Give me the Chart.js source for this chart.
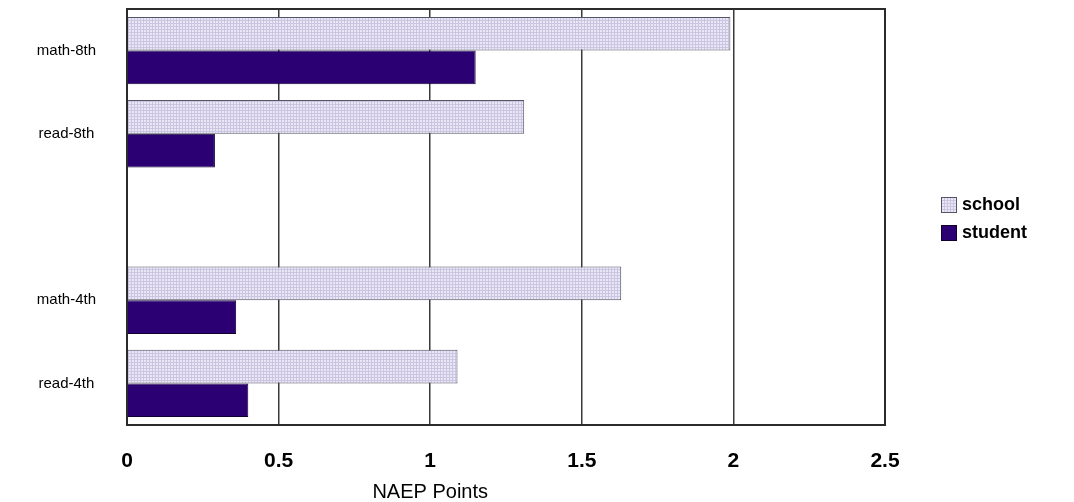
<!DOCTYPE html>
<html>
<head>
<meta charset="utf-8">
<script src="https://cdn.jsdelivr.net/npm/chart.js@4"></script>
<style>
  html, body { margin: 0; padding: 0; background: #fff; }
  #wrap { width: 1074px; height: 502px; }
</style>
</head>
<body>
<div id="wrap"><canvas id="naep-chart"></canvas></div>
<script>
// NAEP gains by grade and subject
let categories = ['math-8th', 'read-8th', '', 'math-4th', 'read-4th'];
let schoolPoints = [1.99, 1.31, null, 1.63, 1.09];
let studentPoints = [1.15, 0.29, null, 0.36, 0.40];
let seriesNames = ['school', 'student'];
let xTicks = [0, 0.5, 1, 1.5, 2, 2.5];
let xTitle = 'NAEP Points';

let fontFamily = "'Liberation Sans', Arial, sans-serif";

// Dotted lavender fill for the school bars
function makeDots() {
  let tile = document.createElement('canvas');
  tile.width = 3;
  tile.height = 3;
  let c = tile.getContext('2d');
  c.fillStyle = '#cbc5e2';
  c.fillRect(0, 0, 3, 3);
  c.fillStyle = '#e9e6f6';
  c.fillRect(0, 0, 2, 2);
  return c.createPattern(tile, 'repeat');
}
let dots = makeDots();

// Box round the plot area
let frame = {
  id: 'frame',
  afterDatasetsDraw(chart) {
    let {ctx, chartArea: a} = chart;
    ctx.save();
    ctx.strokeStyle = '#2b2b2b';
    ctx.lineWidth = 2;
    ctx.strokeRect(a.left, a.top, a.right - a.left, a.bottom - a.top);
    ctx.restore();
  }
};

// Axis title sits under the 1 tick, legend stacked at the right
let extras = {
  id: 'extras',
  afterDraw(chart) {
    let ctx = chart.ctx;
    ctx.save();
    ctx.fillStyle = '#000';
    ctx.textBaseline = 'middle';

    ctx.font = '20px ' + fontFamily;
    ctx.textAlign = 'center';
    ctx.fillText(xTitle, chart.scales.x.getPixelForValue(1), 492);

    ctx.font = 'bold 18px ' + fontFamily;
    ctx.textAlign = 'left';
    let x = chart.chartArea.right + 56;
    chart.data.datasets.forEach((ds, i) => {
      let top = 197 + i * 28;
      ctx.fillStyle = ds.backgroundColor;
      ctx.fillRect(x, top, 16, 16);
      ctx.strokeStyle = ds.borderColor;
      ctx.lineWidth = 1;
      ctx.strokeRect(x + 0.5, top + 0.5, 15, 15);
      ctx.fillStyle = '#000';
      ctx.fillText(ds.label, x + 21, top + 8.5);
    });
    ctx.restore();
  }
};

let chart = new Chart(document.getElementById('naep-chart'), {
  type: 'bar',
  data: {
    labels: categories,
    datasets: [{
      label: seriesNames[0],
      data: schoolPoints,
      backgroundColor: dots,
      borderColor: '#555566',
      borderWidth: 1,
    }, {
      label: seriesNames[1],
      data: studentPoints,
      backgroundColor: '#2a0072',
      borderColor: '#120033',
      borderWidth: 1,
    }],
  },
  options: {
    indexAxis: 'y',
    responsive: true,
    maintainAspectRatio: false,
    animation: false,
    datasets: {
      bar: {
        categoryPercentage: 0.81,
        barPercentage: 1.0,
      },
    },
    layout: {
      padding: { top: 9, right: 189, left: 0, bottom: 0 },
    },
    scales: {
      x: {
        min: 0,
        max: 2.5,
        afterBuildTicks: scale => {
          scale.ticks = xTicks.map(v => ({ value: v }));
        },
        afterFit: scale => { scale.height = 77; },
        grid: {
          color: '#3a3a3a',
          lineWidth: 1.5,
          drawTicks: false,
        },
        border: { display: false },
        ticks: {
          padding: 24,
          color: '#000',
          font: { family: fontFamily, size: 21, weight: 'bold' },
          callback: value => String(value),
        },
      },
      y: {
        afterFit: scale => {
          scale.width = 127;
          scale.paddingTop = 0;
          scale.paddingBottom = 0;
        },
        grid: { display: false },
        border: { display: false },
        ticks: {
          crossAlign: 'center',
          padding: 23,
          color: '#000',
          font: { family: fontFamily, size: 15 },
        },
      },
    },
    plugins: {
      legend: { display: false },
      tooltip: { enabled: false },
    },
  },
  plugins: [frame, extras],
});
</script>
</body>
</html>
